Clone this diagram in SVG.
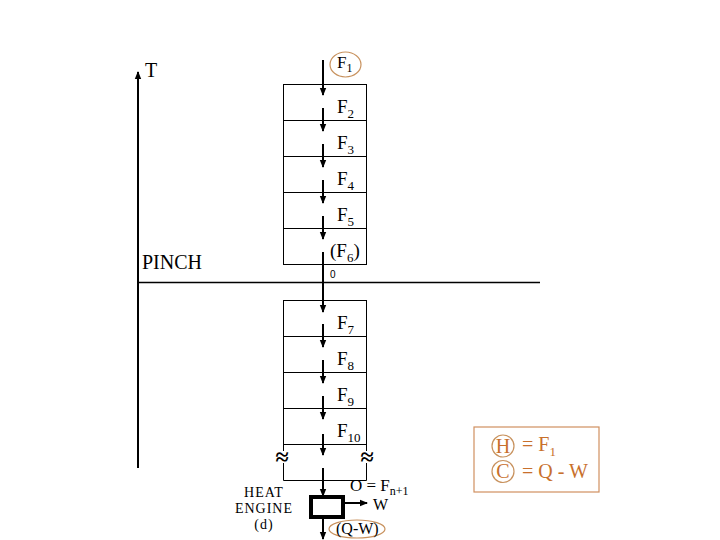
<svg xmlns="http://www.w3.org/2000/svg" width="720" height="540" viewBox="0 0 720 540">
<defs>
<marker id="ah" markerWidth="8" markerHeight="8" refX="7" refY="4" orient="auto" markerUnits="userSpaceOnUse">
<path d="M0,0.8 L8,4 L0,7.2 Z" fill="#000"/>
</marker>
<style>
.box{fill:none;stroke:#000;stroke-width:1}
.arr{stroke:#000;stroke-width:2;fill:none;marker-end:url(#ah)}
.lab{font-family:"Liberation Serif",serif;font-size:19px;fill:#000}
.sub{font-size:13px}
.sm{font-family:"Liberation Serif",serif;font-size:16px;fill:#000}
.eng{font-family:"Liberation Serif",serif;font-size:14px;letter-spacing:1px;fill:#000}
.org{font-family:"Liberation Serif",serif;font-size:20px;fill:#c8702c}
.ring{fill:none;stroke:#c8925e;stroke-width:1.2}
.brk{font-family:"Liberation Serif",serif;font-size:24px;font-weight:bold;fill:#000}
</style>
</defs>
<rect width="720" height="540" fill="#fff"/>
<g id="axis">
<line x1="138" y1="468" x2="138" y2="72" class="arr"/>
<text x="145" y="77" class="lab" style="font-size:20px">T</text>
</g>
<g id="pinch">
<line x1="138" y1="282.5" x2="540" y2="282.5" stroke="#000" stroke-width="1.3"/>
<text x="142" y="269" class="lab" style="font-size:20px">PINCH</text>
</g>
<g id="upper-stack">
<rect x="283.5" y="84.5" width="83" height="36" class="box"/>
<rect x="283.5" y="120.5" width="83" height="36" class="box"/>
<rect x="283.5" y="156.5" width="83" height="36" class="box"/>
<rect x="283.5" y="192.5" width="83" height="36" class="box"/>
<rect x="283.5" y="228.5" width="83" height="36" class="box"/>
<ellipse cx="345.5" cy="64.5" rx="15.5" ry="12.5" class="ring"/>
<text x="337" y="68" class="lab" style="font-size:17px">F<tspan class="sub" style="font-size:12px" dy="4">1</tspan></text>
<text x="337" y="113" class="lab">F<tspan class="sub" dy="5">2</tspan></text>
<text x="337" y="149" class="lab">F<tspan class="sub" dy="5">3</tspan></text>
<text x="337" y="185" class="lab">F<tspan class="sub" dy="5">4</tspan></text>
<text x="337" y="221" class="lab">F<tspan class="sub" dy="5">5</tspan></text>
<text x="330" y="257" class="lab">(F<tspan class="sub" dy="5">6</tspan><tspan dy="-5">)</tspan></text>
<text x="330" y="278" style="font-family:'Liberation Sans',sans-serif;font-size:10px">0</text>
</g>
<g id="lower-stack">
<rect x="283.5" y="300.5" width="83" height="36" class="box"/>
<rect x="283.5" y="336.5" width="83" height="36" class="box"/>
<rect x="283.5" y="372.5" width="83" height="36" class="box"/>
<rect x="283.5" y="408.5" width="83" height="36" class="box"/>
<text x="337" y="329" class="lab">F<tspan class="sub" dy="5">7</tspan></text>
<text x="337" y="365" class="lab">F<tspan class="sub" dy="5">8</tspan></text>
<text x="337" y="401" class="lab">F<tspan class="sub" dy="5">9</tspan></text>
<text x="337" y="437" class="lab">F<tspan class="sub" dy="5">10</tspan></text>
</g>
<g id="break-box">
<path d="M283.5,444 V451 M283.5,463 V480.5 H366.5 V463 M366.5,451 V444" class="box"/>
<text x="282" y="465" text-anchor="middle" class="brk">≈</text>
<text x="367" y="465" text-anchor="middle" class="brk">≈</text>
</g>
<g id="heat-engine">
<rect x="311" y="497" width="32" height="20" fill="none" stroke="#000" stroke-width="4"/>
<text x="264" y="497" text-anchor="middle" class="eng">HEAT</text>
<text x="264" y="513" text-anchor="middle" class="eng">ENGINE</text>
<text x="264" y="529" text-anchor="middle" class="eng">(d)</text>
<text x="350" y="491" class="sm" style="font-size:17px">O = F<tspan style="font-size:12px" dy="4">n+1</tspan></text>
<text x="373" y="510" class="sm">W</text>
<ellipse cx="357" cy="529" rx="28" ry="9" class="ring"/>
<text x="336" y="534" class="sm">(Q-W)</text>
</g>
<g id="legend">
<rect x="474" y="427" width="125" height="65" fill="none" stroke="#d09060" stroke-width="1.2"/>
<circle cx="503" cy="446" r="11" class="ring"/>
<text x="503" y="453" text-anchor="middle" class="org">H</text>
<text x="522" y="451" class="org">= F<tspan style="font-size:13px" dy="5">1</tspan></text>
<circle cx="503" cy="471.5" r="11" class="ring"/>
<text x="503" y="478" text-anchor="middle" class="org">C</text>
<text x="522" y="478" class="org">= Q - W</text>
</g>
<g id="connectors">
<line x1="323" y1="60" x2="323" y2="95" class="arr"/>
<line x1="323" y1="108" x2="323" y2="131" class="arr"/>
<line x1="323" y1="144" x2="323" y2="167" class="arr"/>
<line x1="323" y1="180" x2="323" y2="203" class="arr"/>
<line x1="323" y1="216" x2="323" y2="239" class="arr"/>
<line x1="323" y1="252" x2="323" y2="312" class="arr"/>
<line x1="323" y1="324" x2="323" y2="347" class="arr"/>
<line x1="323" y1="360" x2="323" y2="383" class="arr"/>
<line x1="323" y1="396" x2="323" y2="419" class="arr"/>
<line x1="323" y1="434" x2="323" y2="455" class="arr"/>
<line x1="323" y1="468" x2="323" y2="496" class="arr"/>
<line x1="323" y1="519" x2="323" y2="539" class="arr"/>
<line x1="345" y1="503" x2="367" y2="503" class="arr"/>
</g>
</svg>
